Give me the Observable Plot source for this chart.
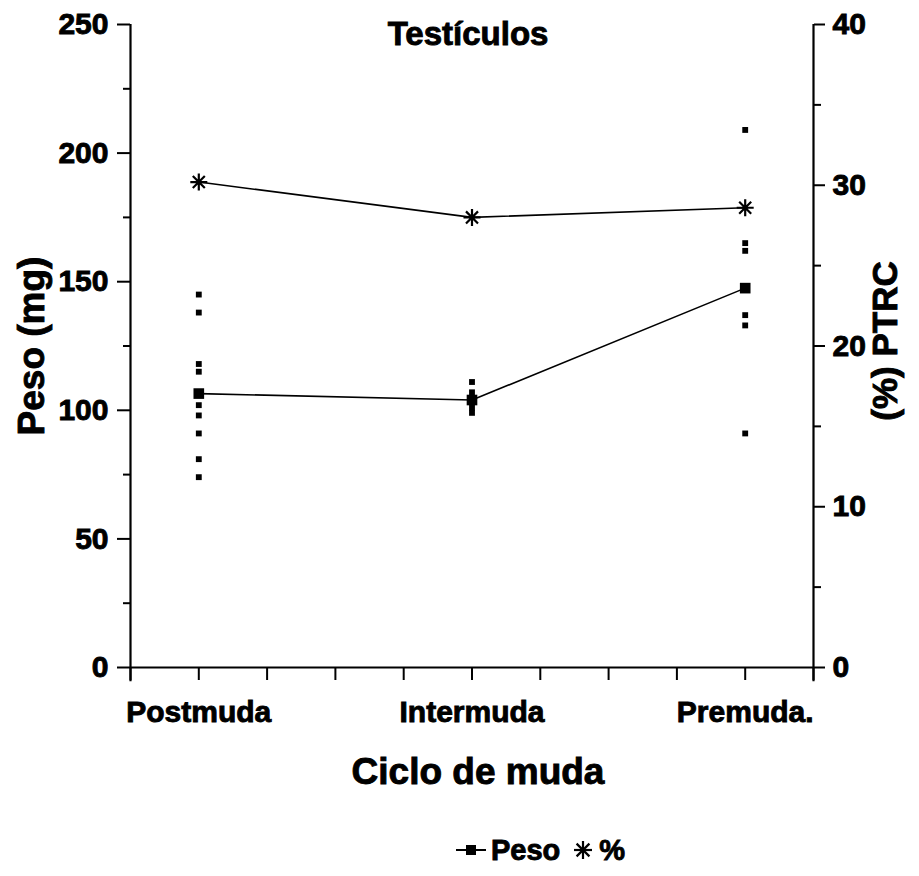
<!DOCTYPE html>
<html>
<head>
<meta charset="utf-8">
<script src="https://cdn.jsdelivr.net/npm/d3@7"></script>
<script src="https://cdn.jsdelivr.net/npm/@observablehq/plot@0.6"></script>
<style>
  html, body { margin: 0; padding: 0; background: #fff; }
  #chart svg text { stroke: #000; stroke-width: 0.9px; }
  #legend { height: 50px; margin-top: 25px; display: flex; justify-content: center; align-items: center;
    font-family: "Liberation Sans", Arial, sans-serif; font-weight: bold; font-size: 29px;
    -webkit-text-stroke: 0.9px #000; padding-left: 160px; }
  #legend .item { display: flex; align-items: center; margin: 0 5px; }
  #legend svg { margin-right: 3px; }
</style>
</head>
<body>
<div id="chart"></div>
<div id="legend"></div>
<script>
// ---- data ----
const categories = ["Postmuda", "Intermuda", "Premuda."];
const pesoPostmuda = [145, 138, 118, 115, 102, 98, 91, 81, 74];
const pesoIntermuda = [111, 107, 104, 101, 99];
const pesoPremuda = [209, 165, 162, 137, 133, 91];
const pesoMean = [106.5, 104, 147.5];
const ptrc = [30.2, 28.0, 28.6];
const yTicks = [0, 50, 100, 150, 200, 250];
const yMinorTicks = [25, 75, 125, 175, 225];
const y2Ticks = [0, 10, 20, 30, 40];
const y2MinorTicks = [5, 15, 25, 35];
const title = "Testículos";
const xLabel = "Ciclo de muda";
const yLabel = "Peso (mg)";
const y2Label = "(%) PTRC";
const seriesNames = ["Peso", "%"];

// ---- derived tables ----
const k = 250 / 40; // % axis -> mg axis
const points = [pesoPostmuda, pesoIntermuda, pesoPremuda]
  .flatMap((arr, i) => arr.map(v => ({i, v})));
const means = pesoMean.map((v, i) => ({i, v}));
const pct = ptrc.map((v, i) => ({i, v: v * k}));
const xMinor = d3.range(11).map(j => -0.25 + j * 0.25);

const asterisk = {
  draw(ctx, size) {
    const r = Math.sqrt(size / Math.PI);
    for (let a = 0; a < 4; a++) {
      const t = a * Math.PI / 4;
      const dx = r * Math.cos(t), dy = r * Math.sin(t);
      ctx.moveTo(-dx, -dy); ctx.lineTo(dx, dy);
    }
  }
};

const font = {fontFamily: "Liberation Sans, Arial, sans-serif", fontWeight: "bold", lineAnchor: "middle", textAnchor: "middle"};

const chart = Plot.plot({
  width: 919,
  height: 800,
  marginTop: 24,
  marginBottom: 133,
  marginLeft: 130,
  marginRight: 106,
  style: {fontFamily: "Liberation Sans, Arial, sans-serif", fontSize: "30px", fontWeight: "bold", color: "#000", background: "#fff"},
  x: {domain: [-0.25, 2.25], axis: null},
  y: {domain: [0, 250], axis: null},
  marks: [
    // axis lines
    Plot.ruleX([-0.25, 2.25], {y1: -5.5, y2: 250, strokeWidth: 2.2}),
    Plot.ruleY([0], {x1: -0.25, x2: 2.25, strokeWidth: 2.2}),
    // left axis
    Plot.axisY(yTicks, {anchor: "left", tickSize: 13, tickPadding: 9, strokeWidth: 2, label: null, fontSize: 30}),
    Plot.axisY(yMinorTicks, {anchor: "left", tickSize: 7, strokeWidth: 2, tickFormat: () => "", label: null}),
    // right axis (% scaled onto the same y scale)
    Plot.axisY(y2Ticks.map(v => v * k), {anchor: "right", tickSize: 11, tickPadding: 8, strokeWidth: 2, tickFormat: d => Math.round(d / k), label: null, fontSize: 30}),
    Plot.axisY(y2MinorTicks.map(v => v * k), {anchor: "right", tickSize: 7, strokeWidth: 2, tickFormat: () => "", label: null}),
    // x axis
    Plot.axisX(xMinor, {anchor: "bottom", tickSize: 13, strokeWidth: 2, tickFormat: () => "", label: null}),
    Plot.axisX([0, 1, 2], {anchor: "bottom", tickSize: 0, tickPadding: 33, tickFormat: i => categories[i], label: null, fontSize: 30}),
    // title & axis labels
    Plot.text([title], {frameAnchor: "top", dy: 10, dx: -4, fontSize: 33, ...font}),
    Plot.text([xLabel], {frameAnchor: "bottom", dy: 105, dx: 6, fontSize: 37, ...font}),
    Plot.text([yLabel], {frameAnchor: "left", dx: -98, rotate: -90, fontSize: 37, ...font}),
    Plot.text([y2Label], {frameAnchor: "right", dx: 72, dy: -5, rotate: -90, fontSize: 35, ...font}),
    // Peso
    Plot.dot(points, {x: "i", y: "v", symbol: "square", r: 3.3, fill: "#000", stroke: null}),
    Plot.line(means, {x: "i", y: "v", stroke: "#000", strokeWidth: 1.6}),
    Plot.dot(means, {x: "i", y: "v", symbol: "square", r: 6, fill: "#000", stroke: null}),
    // %
    Plot.line(pct, {x: "i", y: "v", stroke: "#000", strokeWidth: 1.6}),
    Plot.dot(pct, {x: "i", y: "v", symbol: asterisk, r: 8.5, fill: "none", stroke: "#000", strokeWidth: 2.2})
  ]
});
document.getElementById("chart").appendChild(chart);

// legend
const legend = document.getElementById("legend");
const icons = [
  `<svg width="34" height="20"><line x1="2" y1="10" x2="32" y2="10" stroke="#000" stroke-width="2"/><rect x="12" y="5" width="10" height="10" fill="#000"/></svg>`,
  `<svg width="26" height="22"><g stroke="#000" stroke-width="2.2" transform="translate(13,11)"><line x1="-9" y1="0" x2="9" y2="0"/><line x1="0" y1="-9" x2="0" y2="9"/><line x1="-6.4" y1="-6.4" x2="6.4" y2="6.4"/><line x1="-6.4" y1="6.4" x2="6.4" y2="-6.4"/></g></svg>`
];
seriesNames.forEach((name, i) => {
  const item = document.createElement("div");
  item.className = "item";
  item.innerHTML = icons[i] + `<span>${name}</span>`;
  legend.appendChild(item);
});
</script>
</body>
</html>
